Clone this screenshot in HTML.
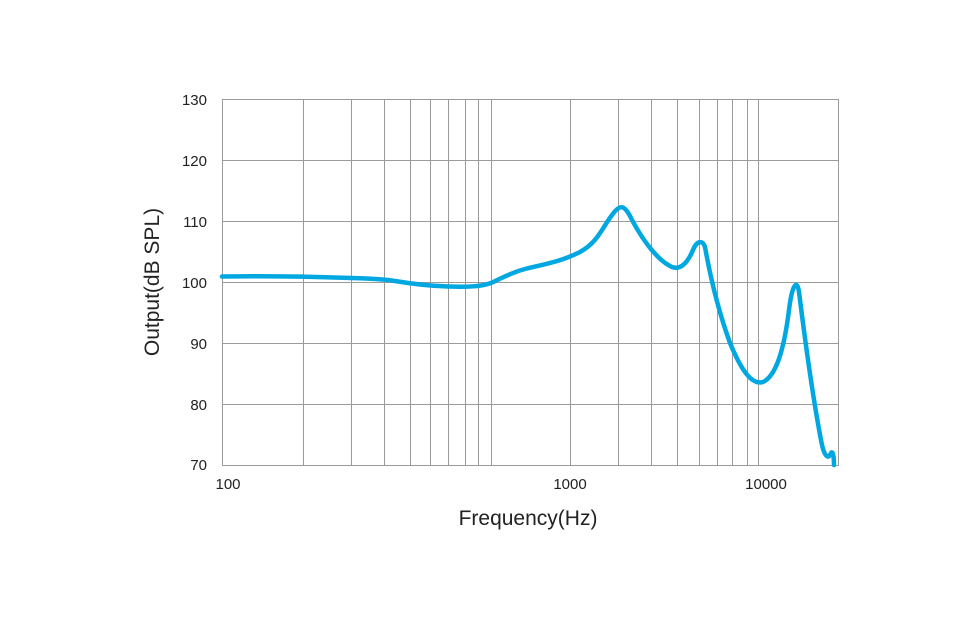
<!DOCTYPE html>
<html><head><style>body{margin:0;background:#fff}</style></head><body>
<svg width="976" height="613" xmlns="http://www.w3.org/2000/svg" font-family="Liberation Sans, sans-serif">
<rect width="976" height="613" fill="#fff"/>
<g stroke="#9a9a9a" stroke-width="1" fill="none">
<rect x="222.5" y="99.5" width="616" height="366"/>
<path d="M222 160.5H839M222 221.5H839M222 282.5H839M222 343.5H839M222 404.5H839"/>
<path d="M303.5 99V466M351.5 99V466M384.5 99V466M410.5 99V466M430.5 99V466M448.5 99V466M465.5 99V466M478.5 99V466M491.5 99V466M570.5 99V466M618.5 99V466M651.5 99V466M677.5 99V466M699.5 99V466M717.5 99V466M732.5 99V466M747.5 99V466M758.5 99V466"/>
</g>
<g font-size="15" fill="#222" text-anchor="end">
<text x="207" y="105">130</text><text x="207" y="166">120</text><text x="207" y="227">110</text>
<text x="207" y="288">100</text><text x="207" y="349">90</text><text x="207" y="410">80</text><text x="207" y="470">70</text>
</g>
<g font-size="15" fill="#222" text-anchor="middle">
<text x="228" y="489">100</text><text x="570" y="489">1000</text><text x="766" y="489">10000</text>
</g>
<text x="528" y="525" font-size="21" fill="#222" text-anchor="middle">Frequency(Hz)</text>
<text transform="translate(159,282) rotate(-90)" font-size="21" fill="#222" text-anchor="middle">Output(dB SPL)</text>
<path fill="none" stroke="#00a7e1" stroke-width="4.5" stroke-linejoin="round" stroke-linecap="round"
d="M222 276.5 C260 276 300 276.3 351 278 C370 278.5 384 279 395 281 C410 283.5 430 286 448 286.5 C465 287 480 287 491 283 C500 279 510 273 525 269 C545 264 560 262 580 252 C598 242 602 228 612 215 C620 204 624 205 630 216 C640 236 655 258 670 266 C680 272 688 262 693 250 C697 240 703 240 705 247 C710 275 718 310 730 343 C742 372 752 385 763 382 C776 376 784 350 789 310 C792 285 797 278 799 292 C805 340 813 400 822 445 C825 458 829 459 831 453 C833 450 834 458 834 465"/>
</svg>
</body></html>
